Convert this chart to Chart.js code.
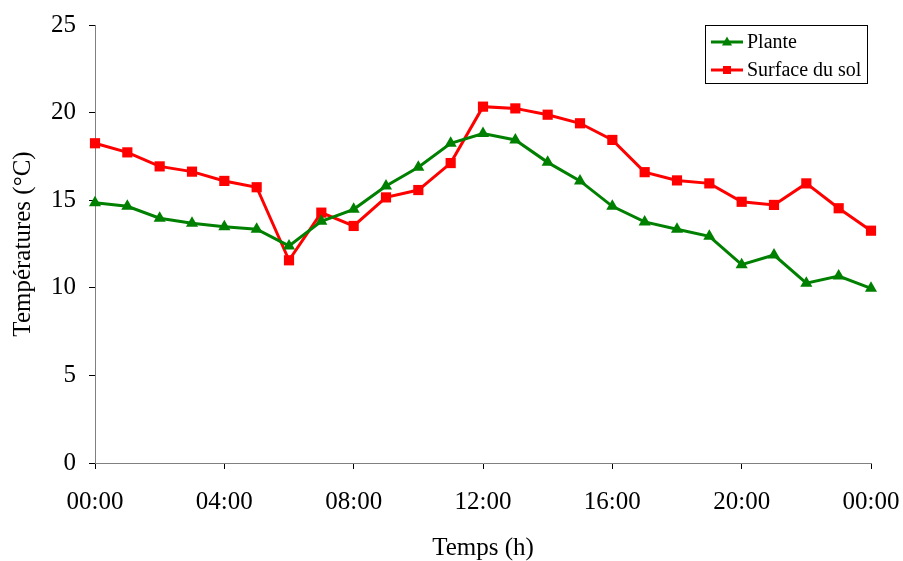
<!DOCTYPE html>
<html>
<head>
<meta charset="utf-8">
<script src="https://cdn.jsdelivr.net/npm/chart.js@4/dist/chart.umd.min.js"></script>
<style>
  html, body { margin: 0; padding: 0; background: #fff; }
  #wrap { width: 903px; height: 561px; position: relative; }
</style>
</head>
<body>
<div id="wrap"><canvas id="tempChart"></canvas></div>
<script>
// hourly readings, 00:00 -> 00:00 next day
const hours = [0, 1, 2, 3, 4, 5, 6, 7, 8, 9, 10, 11, 12, 13, 14, 15, 16, 17, 18, 19, 20, 21, 22, 23, 24];
const plante = [14.85, 14.65, 13.97, 13.68, 13.49, 13.34, 12.39, 13.8, 14.48, 15.81, 16.88, 18.25, 18.8,
                18.44, 17.16, 16.1, 14.65, 13.76, 13.34, 12.94, 11.32, 11.87, 10.26, 10.67, 9.97];
const surfaceSol = [18.25, 17.73, 16.93, 16.63, 16.1, 15.74, 11.57, 14.29, 13.53, 15.16, 15.58, 17.12, 20.34,
                    20.24, 19.88, 19.39, 18.44, 16.6, 16.13, 15.96, 14.91, 14.73, 15.96, 14.54, 13.26];
const xTickLabels = ['00:00', '04:00', '08:00', '12:00', '16:00', '20:00', '00:00'];
const yTicks = [0, 5, 10, 15, 20, 25];

const seriesNames = ['Plante', 'Surface du sol'];
const seriesColors = ['#008000', '#ff0000'];

const FONT = "'Liberation Serif', 'Times New Roman', serif";

// legend box drawn by hand (bordered, top right)
const boxLegend = {
  id: 'boxLegend',
  afterDraw(chart) {
    const ctx = chart.ctx;
    const x0 = 705.5, y0 = 25.5, w = 162, h = 58;
    ctx.save();
    ctx.fillStyle = '#fff';
    ctx.fillRect(x0, y0, w, h);
    ctx.strokeStyle = '#000';
    ctx.lineWidth = 1;
    ctx.strokeRect(x0, y0, w, h);
    ctx.font = '20px ' + FONT;
    ctx.textBaseline = 'middle';
    const rows = [42, 70];
    chart.data.datasets.forEach((ds, i) => {
      const y = rows[i];
      ctx.strokeStyle = ds.borderColor;
      ctx.lineWidth = 3;
      ctx.beginPath();
      ctx.moveTo(711, y);
      ctx.lineTo(743, y);
      ctx.stroke();
      ctx.fillStyle = ds.borderColor;
      ctx.beginPath();
      if (ds.pointStyle === 'triangle') {
        ctx.moveTo(727, y - 5.5);
        ctx.lineTo(732, y + 3.5);
        ctx.lineTo(722, y + 3.5);
        ctx.closePath();
      } else {
        ctx.rect(723, y - 4, 8, 8);
      }
      ctx.fill();
      ctx.fillStyle = '#000';
      ctx.fillText(ds.label, 747, y + 1);
    });
    ctx.restore();
  }
};

const ctx = document.getElementById('tempChart').getContext('2d');

new Chart(ctx, {
  type: 'line',
  data: {
    datasets: [
      {
        label: seriesNames[0],
        data: hours.map((h, i) => ({ x: h, y: plante[i] })),
        borderColor: seriesColors[0],
        backgroundColor: seriesColors[0],
        borderWidth: 3,
        pointStyle: 'triangle',
        pointRadius: 7,
        pointBorderWidth: 0,
        tension: 0,
        clip: false
      },
      {
        label: seriesNames[1],
        data: hours.map((h, i) => ({ x: h, y: surfaceSol[i] })),
        borderColor: seriesColors[1],
        backgroundColor: seriesColors[1],
        borderWidth: 3,
        pointStyle: 'rect',
        pointRadius: 7.2,
        pointBorderWidth: 0,
        tension: 0,
        clip: false
      }
    ]
  },
  options: {
    responsive: true,
    maintainAspectRatio: false,
    animation: false,
    layout: { padding: { top: 25, right: 32, left: 0, bottom: 0 } },
    plugins: {
      legend: { display: false },
      tooltip: { enabled: false }
    },
    scales: {
      x: {
        type: 'linear',
        min: hours[0],
        max: hours[hours.length - 1],
        afterFit: (scale) => {
          scale.height = 98;
          scale.paddingLeft = 0;
          scale.paddingRight = 0;
        },
        ticks: {
          stepSize: 4,
          autoSkip: false,
          maxRotation: 0,
          padding: 18,
          color: '#000',
          font: { family: FONT, size: 25 },
          callback: (value, index) => xTickLabels[index]
        },
        grid: { drawOnChartArea: false, drawTicks: true, tickLength: 6, color: '#000' },
        border: { display: true, color: '#808080', width: 1 },
        title: {
          display: true,
          text: 'Temps (h)',
          color: '#000',
          font: { family: FONT, size: 25, lineHeight: 1 },
          padding: { top: 0, bottom: 0 }
        }
      },
      y: {
        min: yTicks[0],
        max: yTicks[yTicks.length - 1],
        afterFit: (scale) => {
          scale.width = 95;
          scale.paddingTop = 0;
          scale.paddingBottom = 0;
        },
        afterBuildTicks: (scale) => { scale.ticks = yTicks.map(v => ({ value: v })); },
        ticks: {
          padding: 13,
          color: '#000',
          font: { family: FONT, size: 25 }
        },
        grid: { drawOnChartArea: false, drawTicks: true, tickLength: 6, color: '#000' },
        border: { display: true, color: '#808080', width: 1 },
        title: {
          display: true,
          text: 'Températures (°C)',
          color: '#000',
          font: { family: FONT, size: 25, lineHeight: 1 },
          padding: { top: 11, bottom: 0 }
        }
      }
    }
  },
  plugins: [boxLegend]
});
</script>
</body>
</html>
